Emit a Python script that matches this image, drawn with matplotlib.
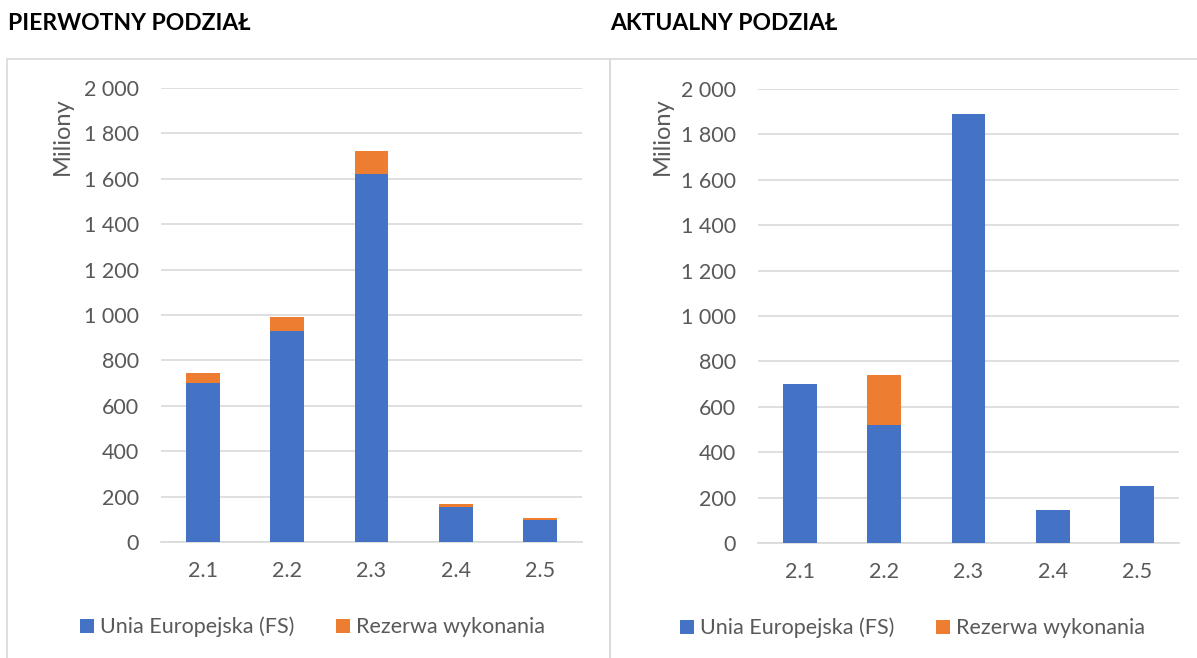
import matplotlib
matplotlib.use("Agg")
import matplotlib.pyplot as plt
from matplotlib.patches import Rectangle
from matplotlib.ticker import FuncFormatter

plt.rcParams["font.family"] = ["Lato", "DejaVu Sans"]

categories = ["2.1", "2.2", "2.3", "2.4", "2.5"]
series_names = ["Unia Europejska (FS)", "Rezerwa wykonania"]
titles = ["PIERWOTNY PODZIAŁ", "AKTUALNY PODZIAŁ"]

# initial split (millions)
initial_eu = [700, 930, 1620, 155, 98]
initial_reserve = [45, 61, 101, 12, 6]
# current split (millions)
current_eu = [700, 520, 1890, 145, 250]
current_reserve = [0, 220, 0, 0, 0]

BLUE = "#4472C4"
ORANGE = "#ED7D31"
GRID = "#d9d9d9"
TXT = "#595959"
W, H = 1197, 658


def thousands(v, _):
    return f"{int(v):,}".replace(",", " ")


fig = plt.figure(figsize=(W / 100, H / 100), dpi=100)

# panel frames
for x0, x1 in [(7, 610), (610, 1205)]:
    fig.patches.append(Rectangle((x0 / W, -0.01), (x1 - x0) / W, (H - 59) / H + 0.01,
                                 transform=fig.transFigure, fill=False,
                                 edgecolor=GRID, lw=1.2))

panels = [
    (161, 542, initial_eu, initial_reserve, 8, 62, 80, 627),
    (758, 543, current_eu, current_reserve, 610, 662, 680, 628),
]
for (left, zero_y, eu, res, title_x, ylab_x, leg_x, leg_y), title in zip(panels, titles):
    ax = fig.add_axes([left / W, (H - zero_y) / H, 421 / W, 454 / H])
    x = range(len(categories))
    ax.bar(x, eu, width=0.4, color=BLUE, label=series_names[0], zorder=3)
    ax.bar(x, res, width=0.4, bottom=eu, color=ORANGE, label=series_names[1], zorder=3)
    ax.set_xlim(-0.5, 4.5)
    ax.set_ylim(0, 2000)
    ax.set_yticks(range(0, 2001, 200))
    ax.yaxis.set_major_formatter(FuncFormatter(thousands))
    ax.set_xticks(list(x))
    ax.set_xticklabels(categories)
    ax.grid(axis="y", color=GRID, lw=1.2, zorder=0)
    for s in ["top", "right", "left"]:
        ax.spines[s].set_visible(False)
    ax.spines["bottom"].set_color(GRID)
    ax.spines["bottom"].set_linewidth(1.2)
    ax.tick_params(length=0, labelsize=15.5, colors=TXT)
    ax.tick_params(axis="y", pad=16)
    ax.tick_params(axis="x", pad=14)
    fig.text(ylab_x / W, 1 - 136 / H, "Miliony", rotation=90, ha="center",
             va="center", fontsize=17, color=TXT)
    fig.text(title_x / W, 1 - 24 / H, title, ha="left", va="center",
             fontsize=16.5, fontweight="bold", color="black")
    ax.legend(loc="center left", bbox_to_anchor=(leg_x / W, 1 - leg_y / H),
              bbox_transform=fig.transFigure, ncol=2, frameon=False,
              fontsize=15.5, labelcolor=TXT, handlelength=0.65, handleheight=0.65,
              handletextpad=0.3, columnspacing=1.9, borderaxespad=0, borderpad=0)

fig.savefig("out.png", dpi=100)
